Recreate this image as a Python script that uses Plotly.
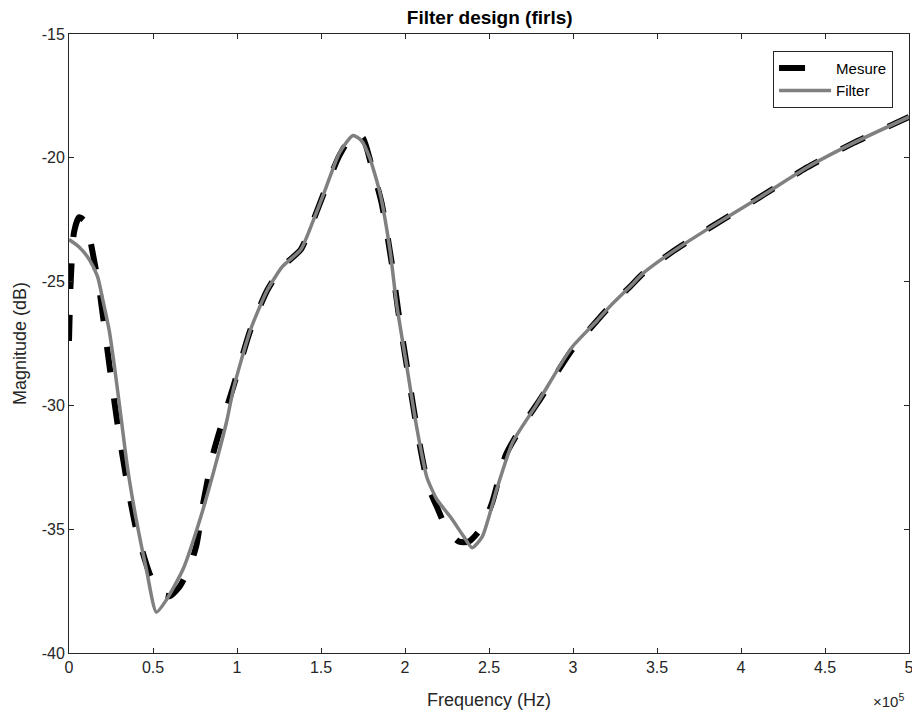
import plotly.graph_objects as go

# Frequencies are read in units of 1e5 Hz, converted below
filter_freq = [0, 0.06, 0.12, 0.17, 0.20, 0.24, 0.27, 0.31, 0.35, 0.40, 0.46, 0.52,
               0.58, 0.68, 0.78, 0.88, 0.94, 0.98, 1.08, 1.18, 1.27, 1.38, 1.45,
               1.53, 1.61, 1.69, 1.74, 1.79, 1.85, 1.91, 1.95, 2.01, 2.07, 2.13,
               2.19, 2.27, 2.35, 2.40, 2.46, 2.55, 2.64, 2.78, 2.94, 3.00, 3.14,
               3.22, 3.34, 3.42, 3.58, 3.82, 4.11, 4.39, 4.67, 5.00]
filter_mag = [-23.3, -23.6, -24.1, -24.8, -25.7, -27.0, -28.4, -30.5, -32.6, -34.6,
              -36.6, -38.35, -37.85, -36.6, -34.6, -32.2, -30.6, -29.3, -26.95,
              -25.35, -24.4, -23.7, -22.6, -21.2, -19.8, -19.1, -19.3, -20.0,
              -21.4, -23.7, -25.9, -28.4, -30.9, -32.9, -33.8, -34.5, -35.3,
              -35.75, -35.3, -33.3, -31.5, -30.0, -28.2, -27.6, -26.6, -26.0,
              -25.2, -24.65, -23.85, -22.8, -21.6, -20.4, -19.4, -18.35]

mesure_freq = [0, 0.01, 0.03, 0.06, 0.10, 0.14, 0.18, 0.21, 0.245, 0.29, 0.34,
               0.40, 0.48, 0.54, 0.60, 0.66, 0.72, 0.76, 0.80, 0.86, 0.92, 0.98,
               1.08, 1.18, 1.27, 1.38, 1.45, 1.53, 1.61, 1.70, 1.75, 1.80, 1.86,
               1.92, 1.96, 2.02, 2.08, 2.14, 2.19, 2.25, 2.32, 2.38, 2.46, 2.52,
               2.60, 2.70, 2.80, 2.94, 3.00, 3.14, 3.22, 3.34, 3.42, 3.58, 3.82,
               4.11, 4.39, 4.67, 5.00]
mesure_mag = [-27.4, -25.0, -23.0, -22.4, -22.6, -23.8, -25.3, -26.8, -28.6,
              -30.8, -32.9, -35.0, -36.8, -37.6, -37.7, -37.3, -36.5, -35.6,
              -33.9, -31.9, -30.5, -29.2, -26.95, -25.35, -24.4, -23.7, -22.6,
              -21.2, -19.9, -19.0, -19.2, -20.3, -21.8, -24.2, -26.2, -28.8,
              -31.3, -33.3, -34.1, -35.0, -35.5, -35.5, -34.9, -33.9, -32.0,
              -30.8, -29.8, -28.3, -27.7, -26.6, -26.0, -25.2, -24.65, -23.85,
              -22.8, -21.6, -20.4, -19.4, -18.35]

x_ticks = [0, 0.5, 1, 1.5, 2, 2.5, 3, 3.5, 4, 4.5, 5]
x_tick_text = ["0", "0.5", "1", "1.5", "2", "2.5", "3", "3.5", "4", "4.5", "5"]
y_ticks = [-40, -35, -30, -25, -20, -15]
y_tick_text = ["-40", "-35", "-30", "-25", "-20", "-15"]

text_color = "#262626"
font_family = "Liberation Sans, Arial"

fig = go.Figure()
fig.add_trace(go.Scatter(
    x=[f * 1e5 for f in mesure_freq], y=mesure_mag, mode="lines", name="Mesure",
    line=dict(color="black", width=6, dash="26px,26px", shape="spline", smoothing=0.6),
))
fig.add_trace(go.Scatter(
    x=[f * 1e5 for f in filter_freq], y=filter_mag, mode="lines", name="Filter",
    line=dict(color="#808080", width=3.5, shape="spline", smoothing=0.6),
))

axis_common = dict(
    showgrid=False, zeroline=False, showline=True, linecolor=text_color, linewidth=1,
    mirror="ticks", ticks="inside", ticklen=5, tickcolor=text_color, automargin=False,
    ticklabeloverflow="allow",
    tickfont=dict(family=font_family, size=16, color=text_color),
)
fig.update_xaxes(
    range=[0, 5e5], tickvals=[t * 1e5 for t in x_ticks], ticktext=x_tick_text,
    title=dict(text="Frequency (Hz)", standoff=18,
               font=dict(family=font_family, size=18, color=text_color)),
    **axis_common,
)
fig.update_yaxes(
    range=[-40, -15], tickvals=y_ticks, ticktext=y_tick_text,
    title=dict(text="Magnitude (dB)", standoff=10,
               font=dict(family=font_family, size=18, color=text_color)),
    **axis_common,
)

fig.update_layout(
    width=912, height=715,
    margin=dict(l=69, r=3, t=34, b=62),
    paper_bgcolor="white", plot_bgcolor="white",
    title=dict(text="<b>Filter design (firls)</b>", x=0.537, xanchor="center",
               yref="container", y=1 - 17 / 715, yanchor="middle",
               font=dict(family=font_family, size=19, color="black")),
    legend=dict(x=0.981, y=0.973, xanchor="right", yanchor="top",
                bgcolor="white", bordercolor=text_color, borderwidth=1,
                font=dict(family=font_family, size=15, color="black"),
                tracegroupgap=0, itemwidth=52),
    showlegend=True,
    annotations=[dict(
        text="\u00d710<sup>5</sup>", xref="paper", yref="paper", x=0.996, y=-0.058,
        xanchor="right", yanchor="top", showarrow=False,
        font=dict(family=font_family, size=15, color=text_color),
    )],
)

# drop the default page margin so the figure sits at the window's top-left corner
fig.write_html("out.html", config={"displayModeBar": False},
               post_script="document.body.style.margin = '0';")
